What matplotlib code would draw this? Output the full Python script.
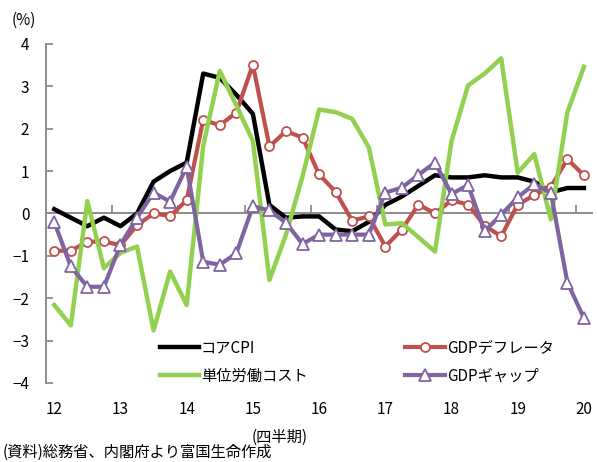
import matplotlib
matplotlib.use("Agg")
import matplotlib.pyplot as plt
import numpy as np

plt.rcParams['font.family'] = ['Noto Sans CJK JP', 'DejaVu Sans']

# quarterly data, 2012Q1 .. 2020Q1
years = ["12", "13", "14", "15", "16", "17", "18", "19", "20"]
core_cpi = [0.1, -0.1, -0.3, -0.1, -0.3, 0.0, 0.75, 1.0, 1.2,
            3.3, 3.2, 2.8, 2.35, 0.2, -0.1, -0.07, -0.07, -0.38, -0.42,
            -0.2, 0.2, 0.4, 0.65, 0.9, 0.85, 0.85, 0.9, 0.85, 0.85,
            0.75, 0.5, 0.6, 0.6]
gdp_deflator = [-0.88, -0.88, -0.67, -0.66, -0.75, -0.28, 0.0, -0.06, 0.31,
                2.21, 2.08, 2.38, 3.51, 1.58, 1.94, 1.79, 0.92, 0.51, -0.17,
                -0.07, -0.78, -0.38, 0.21, 0.0, 0.31, 0.21, -0.29, -0.54, 0.21,
                0.43, 0.63, 1.28, 0.9]
unit_labor = [-2.16, -2.64, 0.29, -1.29, -0.93, -0.78, -2.76, -1.37, -2.16,
              1.6, 3.36, 2.55, 1.71, -1.57, -0.5, 0.88, 2.45, 2.39, 2.23,
              1.56, -0.26, -0.23, -0.56, -0.9, 1.71, 3.02, 3.3, 3.66, 0.96,
              1.4, -0.14, 2.39, 3.46]
gdp_gap = [-0.2, -1.25, -1.73, -1.73, -0.74, -0.1, 0.49, 0.28, 1.1,
           -1.14, -1.21, -0.94, 0.17, 0.07, -0.22, -0.72, -0.5, -0.5, -0.5,
           -0.5, 0.49, 0.61, 0.91, 1.2, 0.46, 0.67, -0.42, -0.03, 0.38,
           0.69, 0.49, -1.63, -2.47]

x = np.arange(len(core_cpi))

fig = plt.figure(figsize=(5.97, 4.62), dpi=100)
ax = fig.add_axes([0.077, 0.171, 0.915, 0.734])

l1, = ax.plot(x, core_cpi, color='black', lw=3.2, label='コアCPI', zorder=3)
l2, = ax.plot(x, gdp_deflator, color='#C0504D', lw=3.0, marker='o', ms=6.5,
              mfc='white', mec='#C0504D', mew=1.3, label='GDPデフレータ', zorder=4)
l3, = ax.plot(x, unit_labor, color='#92D050', lw=3.2, label='単位労働コスト', zorder=5)
l4, = ax.plot(x, gdp_gap, color='#8064A2', lw=3.0, marker='^', ms=8.5,
              mfc='white', mec='#8064A2', mew=1.3, label='GDPギャップ', zorder=6)

ax.set_xlim(-0.5, len(x) - 0.5)
ax.set_ylim(-4, 4)
ax.set_yticks(range(-4, 5))
ax.tick_params(axis='y', direction='in', length=5, width=1.3, color='#8c8c8c',
               labelsize=11, pad=12)

# x axis drawn at zero, labels pushed down below the plot
ax.spines['bottom'].set_position(('data', 0))
ax.spines['bottom'].set_color('#8c8c8c')
ax.spines['bottom'].set_linewidth(1.4)
ax.spines['left'].set_color('#8c8c8c')
ax.spines['left'].set_linewidth(1.4)
ax.spines['top'].set_visible(False)
ax.spines['right'].set_visible(False)

ax.set_xticks(np.arange(3.5, len(x) - 1, 4))
ax.tick_params(axis='x', which='major', direction='in', length=6, width=1.3,
               color='#8c8c8c', labelbottom=False)
ax.set_xticks(np.arange(0, len(x), 4), minor=True)
ax.set_xticklabels(years, minor=True)
ax.tick_params(axis='x', which='minor', length=0, labelsize=11, pad=135)

ax.legend(handles=[l1, l3, l2, l4], ncol=2, loc='lower left',
          bbox_to_anchor=(0.183, -0.045), frameon=False, fontsize=11,
          handlelength=2.6, columnspacing=6.4, labelspacing=0.75,
          handletextpad=0.1)

fig.text(0.02, 0.955, '(%)', fontsize=11, va='center')
fig.text(0.468, 0.054, '(四半期)', fontsize=11, ha='center', va='center')
fig.text(0.005, 0.02, '(資料)総務省、内閣府より富国生命作成', fontsize=11,
         ha='left', va='center')

fig.savefig('out.png', dpi=100)
